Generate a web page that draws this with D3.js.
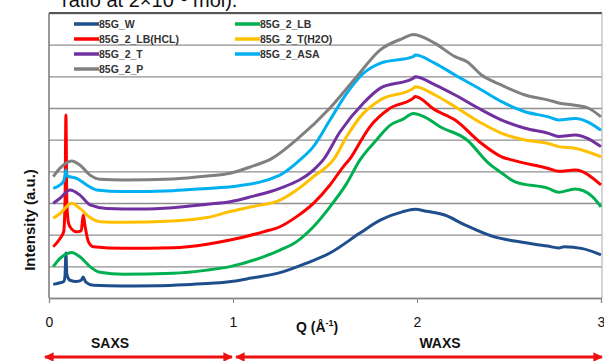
<!DOCTYPE html>
<html>
<head>
<meta charset="utf-8">
<script src="https://cdn.jsdelivr.net/npm/d3@7"></script>
<style>
  html, body { margin: 0; padding: 0; background: #fff; }
  svg { display: block; }
  text { font-family: Arial, "Liberation Sans", sans-serif; }
</style>
</head>
<body>
<svg id="chart" width="604" height="361"></svg>
<script>
// Q (1/Å) vs intensity (a.u., in gridline units)
const seriesNames = ['85G_W', '85G_2_LB', '85G_2_LB(HCL)', '85G_2_T(H2O)', '85G_2_T', '85G_2_ASA', '85G_2_P'];
const seriesColors = ['#1f4e8c', '#00b050', '#ff0000', '#ffc000', '#7030a0', '#00b0f0', '#808080'];

const w85 = [[0.023,0.43],[0.06,0.48],[0.08,0.52],[0.087,0.7],[0.092,1.42],[0.097,0.75],[0.114,0.56],[0.15,0.52],[0.175,0.56],[0.186,0.66],[0.2,0.5],[0.241,0.4],[0.4,0.38],[0.6,0.39],[0.77,0.43],[0.9,0.47],[1.0,0.53],[1.1,0.63],[1.255,0.8],[1.4,1.1],[1.527,1.42],[1.69,2.05],[1.8,2.46],[1.92,2.72],[1.99,2.8],[2.05,2.74],[2.15,2.62],[2.26,2.31],[2.42,1.93],[2.53,1.8],[2.71,1.64],[2.77,1.58],[2.8,1.62],[2.9,1.56],[3.0,1.36]];
const lb = [[0.023,0.99],[0.06,1.25],[0.09,1.38],[0.123,1.44],[0.168,1.3],[0.223,0.99],[0.277,0.81],[0.402,0.75],[0.674,0.78],[0.859,0.88],[0.984,0.99],[1.165,1.3],[1.255,1.51],[1.346,1.78],[1.437,2.25],[1.527,2.88],[1.618,3.62],[1.69,4.36],[1.781,5.0],[1.853,5.45],[1.924,5.65],[1.98,5.83],[2.04,5.72],[2.125,5.41],[2.272,4.99],[2.39,4.25],[2.46,3.95],[2.533,3.67],[2.714,3.46],[2.77,3.34],[2.859,3.44],[2.95,3.22],[3.0,2.88]];
const lbHcl = [[0.023,1.62],[0.06,1.88],[0.08,2.1],[0.087,3.0],[0.092,5.78],[0.097,3.0],[0.105,2.4],[0.114,2.25],[0.15,2.09],[0.175,2.12],[0.186,2.62],[0.195,2.3],[0.214,1.78],[0.241,1.62],[0.402,1.57],[0.674,1.59],[0.859,1.7],[0.984,1.83],[1.165,2.09],[1.255,2.25],[1.346,2.57],[1.437,2.99],[1.527,3.57],[1.6,4.15],[1.636,4.4],[1.708,5.09],[1.745,5.41],[1.853,5.99],[1.98,6.31],[1.99,6.36],[2.098,5.94],[2.207,5.62],[2.351,4.88],[2.46,4.46],[2.514,4.36],[2.714,4.09],[2.77,4.0],[2.859,4.04],[3.0,3.57]];
const tH2o = [[0.023,2.52],[0.06,2.67],[0.123,2.99],[0.168,2.83],[0.223,2.54],[0.277,2.41],[0.402,2.39],[0.674,2.43],[0.859,2.54],[0.984,2.73],[1.1,2.88],[1.255,3.09],[1.346,3.41],[1.437,3.83],[1.55,4.4],[1.618,5.1],[1.708,5.83],[1.799,6.25],[1.98,6.62],[1.99,6.67],[2.098,6.41],[2.207,6.04],[2.351,5.52],[2.46,5.2],[2.587,4.99],[2.714,4.88],[2.77,4.78],[2.859,4.73],[3.0,4.46]];
const t85 = [[0.023,2.99],[0.06,3.15],[0.114,3.41],[0.168,3.25],[0.223,2.94],[0.314,2.83],[0.495,2.81],[0.674,2.85],[0.859,2.96],[0.984,3.04],[1.1,3.2],[1.255,3.46],[1.437,4.04],[1.49,4.36],[1.582,5.25],[1.708,6.15],[1.799,6.62],[1.98,6.94],[1.99,6.99],[2.098,6.73],[2.207,6.41],[2.351,5.94],[2.46,5.62],[2.587,5.36],[2.714,5.2],[2.77,5.1],[2.859,5.15],[3.0,4.78]];
const asa = [[0.023,3.46],[0.06,3.57],[0.08,3.7],[0.088,3.9],[0.092,4.04],[0.1,3.85],[0.15,3.78],[0.205,3.57],[0.259,3.41],[0.402,3.36],[0.674,3.39],[0.859,3.46],[1.0,3.52],[1.255,3.88],[1.364,4.36],[1.437,4.78],[1.527,5.62],[1.618,6.46],[1.708,7.09],[1.799,7.41],[1.98,7.62],[1.99,7.67],[2.098,7.41],[2.207,7.04],[2.351,6.57],[2.46,6.2],[2.587,5.88],[2.714,5.72],[2.77,5.62],[2.859,5.67],[3.0,5.3]];
const p85 = [[0.023,3.83],[0.06,4.1],[0.123,4.33],[0.168,4.2],[0.223,3.88],[0.277,3.75],[0.402,3.73],[0.674,3.76],[0.859,3.85],[0.984,3.94],[1.1,4.15],[1.21,4.4],[1.346,5.0],[1.527,6.0],[1.672,6.99],[1.799,7.83],[1.924,8.2],[1.98,8.32],[2.098,8.04],[2.207,7.62],[2.272,7.46],[2.351,7.04],[2.46,6.72],[2.587,6.41],[2.714,6.25],[2.77,6.16],[2.859,6.09],[2.93,6.0],[3.0,5.72]];
const seriesValues = [w85, lb, lbHcl, tH2o, t85, asa, p85];

const xTicks = [0, 1, 2, 3];
const yGrid = [0, 1, 2, 3, 4, 5, 6, 7, 8, 9];

const svg = d3.select('#chart');
const plotLeft = 49, plotRight = 601, plotTop = 13, plotBottom = 298;
const x = d3.scaleLinear().domain([0, 3]).range([plotLeft, plotRight]);
const y = d3.scaleLinear().domain([0, 9]).range([plotBottom, plotTop]);

// clipped caption line above the figure
svg.append('text').attr('x', 62).attr('y', 7).attr('font-family', '"Liberation Serif", "Times New Roman", serif')
  .attr('font-size', 20).attr('fill', '#111').text('ratio at 2×10⁻³ mol).');

// horizontal gridlines
svg.append('g').attr('transform', `translate(${plotLeft},0)`)
  .call(d3.axisLeft(y).tickValues(yGrid).tickSize(-(plotRight + 1 - plotLeft)).tickFormat(''))
  .call((g) => g.select('.domain').remove())
  .call((g) => g.selectAll('.tick line').attr('stroke', '#8f8f8f').attr('stroke-width', 1.3));

// frame
svg.append('line').attr('x1', plotLeft).attr('x2', plotRight + 1).attr('y1', plotTop).attr('y2', plotTop).attr('stroke', '#555').attr('stroke-width', 2);
svg.append('line').attr('x1', plotLeft).attr('x2', plotLeft).attr('y1', plotTop).attr('y2', plotBottom).attr('stroke', '#777').attr('stroke-width', 1.5);
svg.append('line').attr('x1', plotRight + 1).attr('x2', plotRight + 1).attr('y1', plotTop).attr('y2', plotBottom).attr('stroke', '#aaa').attr('stroke-width', 1);

// x axis
const xAxis = svg.append('g').attr('transform', `translate(0,${plotBottom})`)
  .call(d3.axisBottom(x).tickValues(xTicks).tickSize(5).tickPadding(14).tickFormat(d3.format('d')));
xAxis.select('.domain').attr('stroke', '#888').attr('stroke-width', 1.3);
xAxis.selectAll('.tick line').attr('stroke', '#888');
xAxis.selectAll('.tick text').attr('font-size', 14).attr('fill', '#111').attr('font-family', 'Arial, "Liberation Sans", sans-serif');

// curves
const line = d3.line().x((d) => x(d[0])).y((d) => y(d[1])).curve(d3.curveMonotoneX);
svg.append('g').selectAll('path').data(seriesValues).join('path')
  .attr('d', (d) => line(d)).attr('fill', 'none')
  .attr('stroke', (d, i) => seriesColors[i]).attr('stroke-width', 3).attr('stroke-linejoin', 'round');

// legend (two columns)
const legendOrder = [[0, 1], [2, 3], [4, 5], [6]];
legendOrder.forEach((row, r) => {
  row.forEach((si, c) => {
    const lx = c === 0 ? 74 : 235;
    const ly = 24 + r * 15;
    svg.append('line').attr('x1', lx).attr('x2', lx + 25).attr('y1', ly).attr('y2', ly).attr('stroke', seriesColors[si]).attr('stroke-width', 3.5);
    svg.append('text').attr('x', lx + 25).attr('y', ly + 4).attr('font-size', 10.5).attr('font-weight', 'bold').attr('fill', '#333').text(seriesNames[si]);
  });
});

// axis titles
svg.append('text').attr('transform', 'translate(35,220) rotate(-90)').attr('text-anchor', 'middle')
  .attr('font-size', 15).attr('font-weight', 'bold').attr('fill', '#111').text('Intensity (a.u.)');
const qLabel = svg.append('text').attr('x', 296).attr('y', 332).attr('font-size', 14).attr('font-weight', 'bold').attr('fill', '#111');
qLabel.append('tspan').text('Q (Å');
qLabel.append('tspan').attr('font-size', 9).attr('dy', -6).text('-1');
qLabel.append('tspan').attr('dy', 6).text(')');

// SAXS / WAXS ranges
svg.append('defs').append('marker').attr('id', 'head').attr('viewBox', '0 0 10 10').attr('refX', 9).attr('refY', 5)
  .attr('markerWidth', 3.2).attr('markerHeight', 3.2).attr('orient', 'auto-start-reverse')
  .append('path').attr('d', 'M0,0L10,5L0,10z').attr('fill', '#ee1111');
const ranges = [{ label: 'SAXS', from: 0, to: 1, lx: 110 }, { label: 'WAXS', from: 1, to: 3, lx: 440 }];
ranges.forEach((rg, i) => {
  svg.append('line').attr('x1', x(rg.from) - (i === 0 ? 4 : -3)).attr('x2', x(rg.to) - (i === 0 ? 1 : -1)).attr('y1', 357).attr('y2', 357)
    .attr('stroke', '#ee1111').attr('stroke-width', 3).attr('marker-start', 'url(#head)').attr('marker-end', 'url(#head)');
  svg.append('text').attr('x', rg.lx).attr('y', 348).attr('text-anchor', 'middle').attr('font-size', 14).attr('font-weight', 'bold').attr('fill', '#111').text(rg.label);
});
</script>
</body>
</html>
